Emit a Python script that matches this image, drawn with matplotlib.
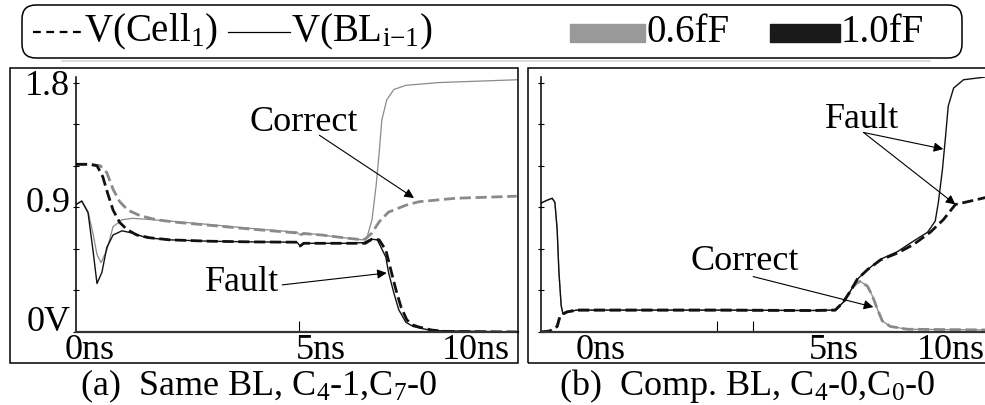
import matplotlib
matplotlib.use("Agg")
import matplotlib.pyplot as plt
from matplotlib.patches import Rectangle, FancyBboxPatch
from matplotlib.lines import Line2D
from matplotlib.transforms import IdentityTransform

plt.rcParams['font.family'] = ['Liberation Serif', 'DejaVu Serif']
plt.rcParams['mathtext.fontset'] = 'custom'
plt.rcParams['mathtext.rm'] = 'Liberation Serif'
plt.rcParams['mathtext.it'] = 'Liberation Serif:italic'

W, H = 985, 405
GRAY = "#8a8a8a"
BLACK = "#111111"

# ---- panel (a): same BL, C4-1, C7-0  (time in ns, voltage in V) ----
a_cell10_t = [0, 0.3, 0.47, 0.6, 0.71, 0.83, 0.98, 1.14, 1.36, 1.65, 2.1, 3.0, 4.0,
              4.95, 5.02, 5.1, 5.5, 6.0, 6.48, 6.63, 6.79, 6.94, 7.05, 7.17, 7.28,
              7.41, 7.55, 7.68, 7.97, 8.28, 9.87]
a_cell10_v = [1.21, 1.21, 1.2, 1.12, 1.0, 0.88, 0.79, 0.74, 0.70, 0.68, 0.665, 0.655,
              0.65, 0.648, 0.62, 0.64, 0.64, 0.64, 0.64, 0.67, 0.665, 0.59, 0.45, 0.30,
              0.18, 0.087, 0.05, 0.036, 0.014, 0.004, 0.0]

a_bl10_t = [0, 0.13, 0.27, 0.38, 0.47, 0.58, 0.69, 0.83, 1.03, 1.25, 1.58, 2.1, 3.0,
            4.0, 4.95, 5.02, 5.1, 5.5, 6.0, 6.45, 6.6, 6.75, 6.94, 7.0, 7.12, 7.23,
            7.39, 7.55, 7.68, 7.97, 9.87]
a_bl10_v = [0.92, 0.945, 0.86, 0.59, 0.35, 0.43, 0.61, 0.70, 0.73, 0.715, 0.68, 0.665,
            0.655, 0.65, 0.648, 0.62, 0.64, 0.64, 0.64, 0.645, 0.67, 0.665, 0.54, 0.43,
            0.28, 0.16, 0.07, 0.04, 0.03, 0.01, 0.0]

a_cell06_t = [0, 0.3, 0.54, 0.69, 0.83, 0.98, 1.16, 1.43, 1.8, 2.3, 3.0, 4.0, 4.95,
              5.02, 5.1, 5.5, 6.0, 6.41, 6.48, 6.63, 6.79, 7.0, 7.39, 7.68, 8.5, 9.87]
a_cell06_v = [1.21, 1.21, 1.2, 1.15, 1.03, 0.94, 0.88, 0.84, 0.81, 0.79, 0.77, 0.74,
              0.715, 0.70, 0.71, 0.70, 0.68, 0.665, 0.67, 0.715, 0.795, 0.865, 0.915,
              0.94, 0.965, 0.98]

a_bl06_t = [0, 0.13, 0.27, 0.38, 0.47, 0.56, 0.69, 0.83, 1.03, 1.27, 1.72, 2.3, 3.0,
            4.0, 4.95, 5.02, 5.1, 5.5, 6.0, 6.41, 6.52, 6.63, 6.72, 6.79, 6.85, 6.96,
            7.12, 7.39, 8.13, 9.87]
a_bl06_v = [0.92, 0.945, 0.87, 0.71, 0.56, 0.50, 0.59, 0.76, 0.81, 0.82, 0.81, 0.795,
            0.775, 0.745, 0.72, 0.70, 0.715, 0.70, 0.68, 0.665, 0.685, 0.81, 1.05, 1.29,
            1.53, 1.675, 1.75, 1.78, 1.80, 1.82]

# ---- panel (b): comp. BL, C4-0, C0-0 ----
b_cell10_t = [0, 0.2, 0.36, 0.42, 0.49, 0.58, 0.8, 2.0, 4.0, 6.0, 6.56, 6.74, 6.9,
              7.05, 7.28, 7.57, 7.95, 8.3, 8.68, 8.97, 9.24, 9.51, 9.91]
b_cell10_v = [0.0, 0.007, 0.04, 0.11, 0.13, 0.145, 0.158, 0.158, 0.158, 0.155, 0.158,
              0.215, 0.295, 0.38, 0.45, 0.52, 0.57, 0.63, 0.72, 0.81, 0.92, 0.94, 0.97]

b_bl10_t = [0, 0.13, 0.25, 0.31, 0.36, 0.40, 0.45, 0.49, 0.58, 0.8, 2.0, 4.0, 6.0,
            6.56, 6.74, 6.9, 7.05, 7.28, 7.57, 7.95, 8.3, 8.62, 8.79, 8.86, 8.95, 9.02,
            9.08, 9.2, 9.42, 9.91]
b_bl10_v = [0.93, 0.95, 0.965, 0.935, 0.74, 0.43, 0.19, 0.13, 0.145, 0.158, 0.158,
            0.158, 0.155, 0.158, 0.215, 0.295, 0.38, 0.45, 0.525, 0.58, 0.655, 0.72,
            0.80, 0.935, 1.17, 1.41, 1.63, 1.76, 1.82, 1.84]

b_cell06_t = [0, 0.2, 0.36, 0.42, 0.49, 0.58, 0.8, 2.0, 4.0, 6.0, 6.56, 6.74, 6.94,
              7.05, 7.12, 7.28, 7.39, 7.5, 7.61, 7.79, 8.17, 9.91]
b_cell06_v = [0.0, 0.007, 0.04, 0.11, 0.13, 0.145, 0.158, 0.158, 0.158, 0.155, 0.158,
              0.215, 0.32, 0.355, 0.365, 0.33, 0.26, 0.165, 0.08, 0.04, 0.02, 0.015]

b_bl06_t = [0, 0.13, 0.25, 0.31, 0.36, 0.40, 0.45, 0.49, 0.58, 0.8, 2.0, 4.0, 6.0,
            6.56, 6.74, 6.94, 7.05, 7.12, 7.28, 7.39, 7.5, 7.61, 7.79, 8.17, 9.91]
b_bl06_v = [0.93, 0.95, 0.965, 0.935, 0.74, 0.43, 0.19, 0.13, 0.145, 0.158, 0.158,
            0.158, 0.155, 0.158, 0.215, 0.32, 0.355, 0.365, 0.33, 0.26, 0.165, 0.08,
            0.04, 0.02, 0.015]

y_ticks = [0, 0.3, 0.6, 0.9, 1.2, 1.5, 1.8]


def px_box(x0, y0, x1, y1):
    # pixel box (top-left origin) -> figure fractions [left, bottom, width, height]
    return [x0 / W, (H - y1) / H, (x1 - x0) / W, (y1 - y0) / H]


def disp(x, y):
    return x, H - y


fig = plt.figure(figsize=(W / 100, H / 100), dpi=100)

ax_a = fig.add_axes(px_box(76, 77, 518, 332))
ax_b = fig.add_axes(px_box(541, 77, 985, 332))

DASH = (0, (4, 1.7))
for ax, curves in (
    (ax_a, [(a_bl06_t, a_bl06_v, GRAY, "-"), (a_cell06_t, a_cell06_v, GRAY, "--"),
            (a_bl10_t, a_bl10_v, BLACK, "-"), (a_cell10_t, a_cell10_v, BLACK, "--")]),
    (ax_b, [(b_bl06_t, b_bl06_v, GRAY, "-"), (b_cell06_t, b_cell06_v, GRAY, "--"),
            (b_bl10_t, b_bl10_v, BLACK, "-"), (b_cell10_t, b_cell10_v, BLACK, "--")]),
):
    for t, v, c, ls in curves:
        if ls == "--":
            ax.plot(t, v, color=c, lw=2.0, linestyle=DASH, solid_capstyle="butt")
        else:
            ax.plot(t, v, color=c, lw=1.0 if c == BLACK else 0.9)
    ax.set_xlim(0, 9.9)
    ax.set_ylim(0, 1.84)
    ax.patch.set_alpha(0)
    for s in ("top", "right"):
        ax.spines[s].set_visible(False)
    ax.spines["left"].set_linewidth(1.1)
    ax.spines["bottom"].set_linewidth(1.6)
    ax.spines["bottom"].set_color("#333333")
    ax.set_yticks(y_ticks)
    ax.set_yticklabels([])
    ax.tick_params(axis="y", direction="inout", length=5, width=0.8)
    ax.tick_params(axis="x", direction="in", length=8, width=0.8)
    ax.set_xticklabels([])

ax_a.set_xticks([5])
ax_b.set_xticks([3.93, 4.73])

FS = 26
# y labels for panel (a)
for txt, yv in (("1.8", 1.77), ("0.9", 0.93), ("0V", 0.07)):
    ax_a.text(-0.13, yv, txt, fontsize=FS, ha="right", va="center", clip_on=False)
# x labels
for ax, labels in ((ax_a, [("0ns", 0.31), ("5ns", 5.49), ("10ns", 8.96)]),
                   (ax_b, [("0ns", 1.32), ("5ns", 6.52), ("10ns", 9.13)])):
    for txt, tv in labels:
        ax.text(tv, -0.13, txt, fontsize=FS, ha="center", va="center", clip_on=False)

# annotations
arrow = dict(arrowstyle="-|>", lw=0.8, color="k", mutation_scale=14,
             shrinkA=0, shrinkB=0)
ax_a.text(5.11, 1.51, "Correct", fontsize=FS, ha="center", va="center")
ax_a.annotate("", xy=(7.57, 0.967), xytext=(5.45, 1.42), arrowprops=arrow)
ax_a.text(3.71, 0.36, "Fault", fontsize=FS, ha="center", va="center")
ax_a.annotate("", xy=(6.96, 0.426), xytext=(4.62, 0.34), arrowprops=arrow)

ax_b.text(7.17, 1.53, "Fault", fontsize=FS, ha="center", va="center")
ax_b.annotate("", xy=(8.97, 1.32), xytext=(7.19, 1.44), arrowprops=arrow)
ax_b.annotate("", xy=(9.24, 0.92), xytext=(7.19, 1.44), arrowprops=arrow)
ax_b.text(4.55, 0.51, "Correct", fontsize=FS, ha="center", va="center")
ax_b.annotate("", xy=(7.41, 0.18), xytext=(4.73, 0.40), arrowprops=arrow)

# panel frames and faint separator
ident = IdentityTransform()
fig.add_artist(Rectangle(disp(10, 363), 508, 295, transform=ident, fill=False,
                         lw=1.1, edgecolor="k"))
fig.add_artist(Rectangle(disp(528, 363), 480, 295, transform=ident, fill=False,
                         lw=1.1, edgecolor="k"))
fig.add_artist(Line2D([62, 930], [H - 61, H - 61], transform=ident,
                      color="#dddddd", lw=1.5))

# captions
fig.text(259 / W, 1 - 386 / H, r"(a)  Same BL, C$_4$-1,C$_7$-0", fontsize=26,
         ha="center", va="center")
fig.text(747 / W, 1 - 386 / H, r"(b)  Comp. BL, C$_4$-0,C$_0$-0", fontsize=26,
         ha="center", va="center")

# legend drawn as a rounded box across the top
fig.add_artist(FancyBboxPatch(disp(22, 58), 940, 53, transform=ident,
                              boxstyle="round,pad=0,rounding_size=14",
                              fill=False, lw=1.1, edgecolor="k"))
ly = H - 32
fig.add_artist(Line2D([33, 83], [ly, ly], transform=ident, color="k", lw=1.6,
                      linestyle=(0, (3.5, 2.5))))
fig.add_artist(Line2D([228, 290], [ly, ly], transform=ident, color="k", lw=0.9))
fig.add_artist(Rectangle(disp(570, 42), 75, 18, transform=ident, color="#999999"))
fig.add_artist(Rectangle(disp(770, 42), 70, 18, transform=ident, color="#1a1a1a"))
LFS = 28
for txt, x in ((r"V(Cell$_1$)", 84), (r"V(BL$_{\mathrm{i{-}1}}$)", 291),
               ("0.6fF", 646), ("1.0fF", 841)):
    fig.text(x / W, 1 - 32 / H, txt, fontsize=LFS, ha="left", va="center")

fig.savefig("out.png", dpi=100)
